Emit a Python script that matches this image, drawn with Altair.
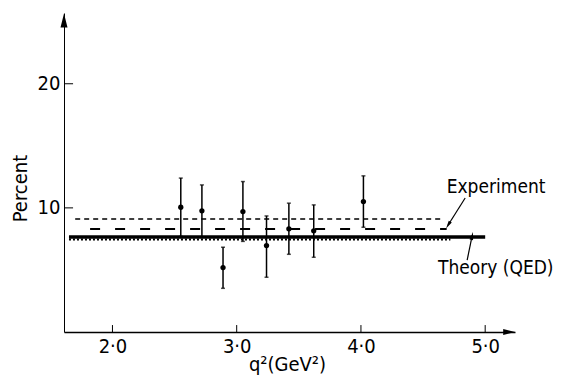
import altair as alt
import pandas as pd

# ---- data ----
q2 = [2.55, 2.72, 2.89, 3.05, 3.24, 3.42, 3.62, 4.02]
pct = [10.05, 9.76, 5.19, 9.70, 6.96, 8.31, 8.15, 10.51]
pct_hi = [12.4, 11.85, 6.83, 12.12, 9.35, 10.38, 10.24, 12.58]
pct_lo = [7.7, 7.67, 3.52, 7.3, 4.41, 6.26, 6.02, 8.44]

line_names = ["theory", "theory_dotted", "exp_long", "exp_short"]
line_y = [7.66, 7.45, 8.3, 9.1]
line_x0 = [1.65, 1.65, 1.82, 1.70]
line_x1 = [5.0, 4.72, 4.69, 4.64]

x_ticks = [2.0, 3.0, 4.0, 5.0]
y_ticks = [10, 20]
X_MIN, X_MAX = 1.61, 5.24
Y_MIN, Y_MAX = 0.0, 25.7

ann_text = ["Experiment", "Theory (QED)"]
ann_x = [4.69, 4.62]
ann_y = [11.68, 5.16]
ann_size = [19, 19]
arrow_x0 = [4.839, 4.855]
arrow_y0 = [10.80, 5.80]
arrow_x1 = [4.702, 4.895]
arrow_y1 = [8.62, 7.74]
arrow_angle = [212, 12]

FONT = "DejaVu Sans Condensed, Liberation Sans Narrow, DejaVu Sans, sans-serif"

pts = pd.DataFrame({"q2": q2, "pct": pct, "hi": pct_hi, "lo": pct_lo})
lines = pd.DataFrame({"name": line_names, "y": line_y, "x0": line_x0, "x1": line_x1})
xt = pd.DataFrame({"x": x_ticks, "y0": [0.0] * 4, "y1": [0.56] * 4})
yt = pd.DataFrame({"y": y_ticks, "x0": [X_MIN] * 2, "x1": [X_MIN + 0.073] * 2})
ann = pd.DataFrame({"t": ann_text, "x": ann_x, "y": ann_y, "fs": ann_size})
arr = pd.DataFrame({"x0": arrow_x0, "y0": arrow_y0, "x1": arrow_x1, "y1": arrow_y1, "a": arrow_angle})
heads = pd.DataFrame({"x": [5.193, X_MIN], "y": [0.0, 25.1], "kind": ["xarrow", "yarrow"]})

xs = alt.Scale(domain=[X_MIN, X_MAX], nice=False, zero=False)
ys = alt.Scale(domain=[Y_MIN, Y_MAX], nice=False, zero=False)

label_expr = "replace(format(datum.value, '.1f'), '.', '·')"

base_axes = alt.Chart(pd.DataFrame({"x": [X_MIN], "y": [Y_MIN]})).mark_point(opacity=0).encode(
    x=alt.X("x:Q", scale=xs, axis=alt.Axis(
        values=x_ticks, labelExpr=label_expr, ticks=False, grid=False,
        domainColor="black", domainWidth=1.5, labelFont=FONT, labelFontSize=20,
        labelColor="black", labelPadding=4, title="q²(GeV²)", titleFont=FONT,
        titleFontSize=20, titleFontWeight="normal", titleColor="black",
        titleX=223, titleY=38, titleBaseline="alphabetic")),
    y=alt.Y("y:Q", scale=ys, axis=alt.Axis(
        values=y_ticks, ticks=False, grid=False, domainColor="black",
        domainWidth=1, labelFont=FONT, labelFontSize=20, labelColor="black",
        labelPadding=4, title="Percent", titleFont=FONT, titleFontSize=20,
        titleFontWeight="normal", titleColor="black", titleAngle=-90,
        titleX=-44, titleY=175, titleAlign="center", titleBaseline="middle")),
)

x_tick_marks = alt.Chart(xt).mark_rule(color="black", strokeWidth=1).encode(
    x=alt.X("x:Q", scale=xs), y=alt.Y("y0:Q", scale=ys), y2="y1:Q")
y_tick_marks = alt.Chart(yt).mark_rule(color="black", strokeWidth=1).encode(
    y=alt.Y("y:Q", scale=ys), x=alt.X("x0:Q", scale=xs), x2="x1:Q")

x_head = alt.Chart(heads).transform_filter("datum.kind == 'xarrow'").mark_point(
    shape="M1,0L-1,-0.5L-1,0.5Z", size=144, filled=True, color="black", opacity=1
).encode(x=alt.X("x:Q", scale=xs), y=alt.Y("y:Q", scale=ys))
y_head = alt.Chart(heads).transform_filter("datum.kind == 'yarrow'").mark_point(
    shape="M0,-1L0.5,1L-0.5,1Z", size=196, filled=True, color="black", opacity=1
).encode(x=alt.X("x:Q", scale=xs), y=alt.Y("y:Q", scale=ys))


def hline(name, **kw):
    return alt.Chart(lines).transform_filter(f"datum.name == '{name}'").mark_rule(
        color="black", **kw).encode(
        x=alt.X("x0:Q", scale=xs), x2="x1:Q", y=alt.Y("y:Q", scale=ys))


theory = hline("theory", strokeWidth=3.5)
theory_dot = hline("theory_dotted", strokeWidth=2, strokeDash=[2, 2])
exp_long = hline("exp_long", strokeWidth=1.8, strokeDash=[10, 15])
exp_short = hline("exp_short", strokeWidth=1.5, strokeDash=[5, 4])

errbars = alt.Chart(pts).mark_rule(color="black", strokeWidth=1.5).encode(
    x=alt.X("q2:Q", scale=xs), y=alt.Y("lo:Q", scale=ys), y2="hi:Q")
cap_hi = alt.Chart(pts).mark_tick(color="black", size=4, thickness=1.5, orient="horizontal").encode(
    x=alt.X("q2:Q", scale=xs), y=alt.Y("hi:Q", scale=ys))
cap_lo = alt.Chart(pts).mark_tick(color="black", size=4, thickness=1.5, orient="horizontal").encode(
    x=alt.X("q2:Q", scale=xs), y=alt.Y("lo:Q", scale=ys))
dots = alt.Chart(pts).mark_circle(color="black", size=28, opacity=1).encode(
    x=alt.X("q2:Q", scale=xs), y=alt.Y("pct:Q", scale=ys))

ann_text_layer = alt.Chart(ann).mark_text(
    font=FONT, align="left", baseline="middle", color="black").encode(
    x=alt.X("x:Q", scale=xs), y=alt.Y("y:Q", scale=ys), text="t:N",
    size=alt.Size("fs:Q", scale=None))
arrow_lines = alt.Chart(arr).mark_rule(color="black", strokeWidth=1.2).encode(
    x=alt.X("x0:Q", scale=xs), y=alt.Y("y0:Q", scale=ys), x2="x1:Q", y2="y1:Q")
arrow_heads = alt.Chart(arr).mark_point(
    shape="M0,-1L0.45,1L-0.45,1Z", size=64, filled=True, color="black", opacity=1).encode(
    x=alt.X("x1:Q", scale=xs), y=alt.Y("y1:Q", scale=ys), angle=alt.Angle("a:Q", scale=None))

chart = alt.layer(
    base_axes, x_tick_marks, y_tick_marks, x_head, y_head,
    theory_dot, exp_long, exp_short, theory,
    errbars, cap_hi, cap_lo, dots,
    arrow_lines, arrow_heads, ann_text_layer,
).properties(
    width=451, height=319,
    background="white",
    autosize=alt.AutoSizeParams(type="none"),
    padding={"left": 56, "top": 5, "right": 42, "bottom": 43},
).configure_view(stroke=None)

chart.save("out.html", embed_options={"renderer": "svg", "actions": False})
